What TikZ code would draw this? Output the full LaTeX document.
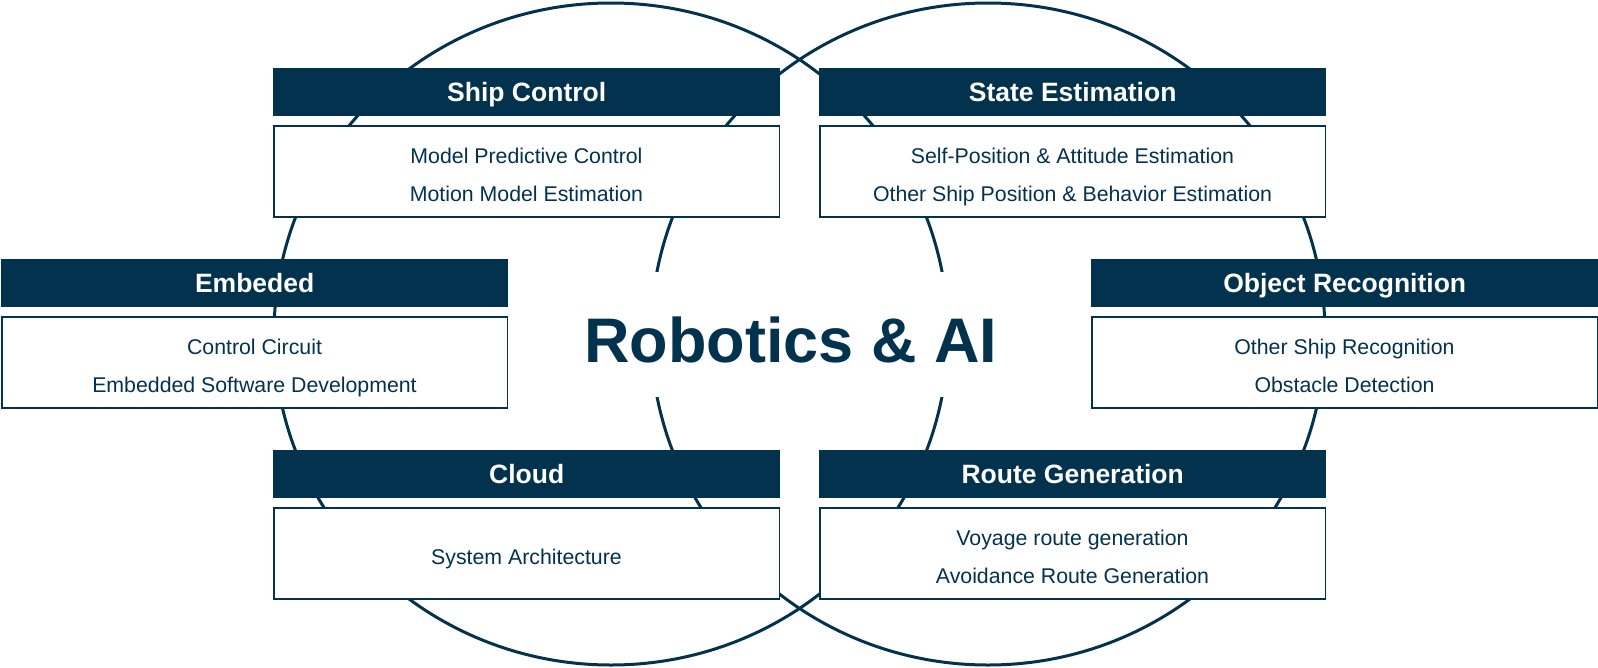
\documentclass[tikz,border=0pt]{standalone}
\usepackage{fontspec}
\setmainfont{Liberation Sans}
\usetikzlibrary{positioning}
\definecolor{navy}{HTML}{03324F}

\begin{document}
\begin{tikzpicture}[x=1pt, y=-1pt,
        H/.style = {fill=navy, text=white, anchor=north west,
                    minimum width=507pt, minimum height=48pt, inner sep=0pt,
                    text height=19pt, text depth=0pt,
                    font=\bfseries\fontsize{26.5}{30}\selectfont},
        T/.style = {draw=navy, fill=white, line width=1.5pt,
                    minimum width=505.5pt, minimum height=91pt, inner sep=0pt},
        L/.style = {text=navy, inner sep=0pt,
                    text height=15.25pt, text depth=0pt,
                    font=\fontsize{21.3}{24}\selectfont}
                                ]
        \useasboundingbox (0,0) rectangle (1598,667);
        % circles
        \draw[navy, line width=3pt]
            (611,334) ellipse [x radius=337pt, y radius=331pt]
            (988,334) ellipse [x radius=337pt, y radius=331pt];

        % top row
        \node[H] (ship) at (273,68) {Ship Control};
        \node[T, below=9pt of ship.south west, anchor=north west] (ship-b) {};
        \node[L] (ship-1) at ([yshift=16pt]ship-b.center) {Model Predictive Control};
        \node[L] (ship-2) at ([yshift=-22pt]ship-b.center) {Motion Model Estimation};

        \node[H] (state) at (819,68) {State Estimation};
        \node[T, below=9pt of state.south west, anchor=north west] (state-b) {};
        \node[L] (state-1) at ([yshift=16pt]state-b.center) {Self-Position \& Attitude Estimation};
        \node[L] (state-2) at ([yshift=-22pt]state-b.center) {Other Ship Position \& Behavior Estimation};

        % middle row
        \node[H] (emb) at (1,259) {Embeded};
        \node[T, below=9pt of emb.south west, anchor=north west] (emb-b) {};
        \node[L] (emb-1) at ([yshift=16pt]emb-b.center) {Control Circuit};
        \node[L] (emb-2) at ([yshift=-22pt]emb-b.center) {Embedded Software Development};

        \node[H] (obj) at (1091,259) {Object Recognition};
        \node[T, below=9pt of obj.south west, anchor=north west] (obj-b) {};
        \node[L] (obj-1) at ([yshift=16pt]obj-b.center) {Other Ship Recognition};
        \node[L] (obj-2) at ([yshift=-22pt]obj-b.center) {Obstacle Detection};

        % bottom row
        \node[H] (cloud) at (273,450) {Cloud};
        \node[T, below=9pt of cloud.south west, anchor=north west] (cloud-b) {};
        \node[L] (cloud-1) at ([yshift=-3.5pt]cloud-b.center) {System Architecture};

        \node[H] (route) at (819,450) {Route Generation};
        \node[T, below=9pt of route.south west, anchor=north west] (route-b) {};
        \node[L] (route-1) at ([yshift=16pt]route-b.center) {Voyage route generation};
        \node[L] (route-2) at ([yshift=-22pt]route-b.center) {Avoidance Route Generation};

        % title
        \node[fill=white, text=navy, inner xsep=12pt, inner ysep=0pt,
              text height=90.7pt, text depth=34.3pt,
              font=\bfseries\fontsize{63}{70}\selectfont] (title) at (791,334.5) {Robotics \& AI};

    \end{tikzpicture}
\end{document}
